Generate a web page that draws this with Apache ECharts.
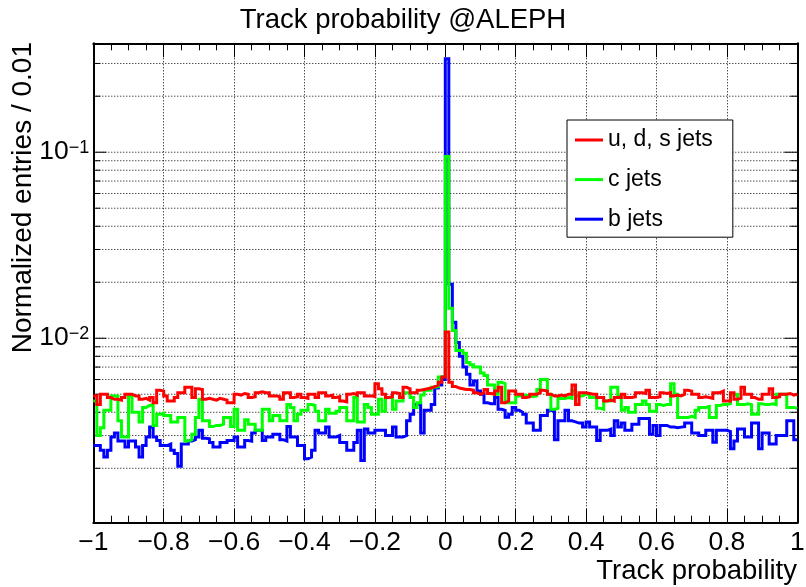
<!DOCTYPE html>
<html><head><meta charset="utf-8">
<script src="https://cdn.jsdelivr.net/npm/echarts@6/dist/echarts.min.js"></script>
<style>html,body{margin:0;padding:0;background:#fff}#c{width:806px;height:587px}</style>
</head><body><div id="c"></div>
<script>
// ---- binning / axis ranges ----
const X_MIN = -1, X_MAX = 1, BIN_W = 0.01;
const Y_MIN = 0.00102, Y_MAX = 0.385;
const X_TICK_STEP = 0.2;
const yGridValues = [0.002,0.003,0.004,0.005,0.006,0.007,0.008,0.009,
  0.01,0.02,0.03,0.04,0.05,0.06,0.07,0.08,0.09,0.1,0.2,0.3];

// ---- histogram contents (200 bins, -1..1) ----
const udsJets = [
0.0049,0.0044,0.005,0.005,0.0048,0.0047,0.0047,0.00465,0.0048,0.005,
0.005,0.0049,0.0049,0.0047,0.00475,0.00465,0.0048,0.0045,0.00525,0.0052,
0.0049,0.0046,0.0046,0.0048,0.0051,0.0051,0.00545,0.00545,0.0048,0.00535,
0.0053,0.0047,0.00475,0.0047,0.00465,0.00475,0.0047,0.00465,0.0045,0.0045,
0.005,0.00495,0.00505,0.005,0.0048,0.00485,0.0051,0.00515,0.0051,0.0051,
0.0049,0.0049,0.00485,0.0047,0.0051,0.0051,0.0048,0.00485,0.005,0.0048,
0.00475,0.005,0.005,0.0048,0.0051,0.0051,0.0049,0.00495,0.0048,0.00485,
0.0046,0.00455,0.005,0.00505,0.00495,0.0051,0.0051,0.0049,0.0049,0.00485,
0.0057,0.00535,0.005,0.0048,0.00485,0.0051,0.00505,0.0048,0.00545,0.00535,
0.0051,0.0051,0.00525,0.0053,0.00535,0.0054,0.0055,0.0056,0.0058,0.0062,
0.0108,0.0058,0.0055,0.0054,0.00535,0.0053,0.0053,0.00525,0.0051,0.005,
0.0051,0.0053,0.00505,0.005,0.0052,0.00545,0.0045,0.0046,0.0052,0.0052,
0.005,0.005,0.0048,0.00485,0.005,0.005,0.0051,0.00525,0.0052,0.005,
0.0049,0.0049,0.00495,0.0049,0.005,0.005,0.0056,0.0044,0.0051,0.0051,
0.00505,0.005,0.005,0.0048,0.0048,0.0046,0.00465,0.0046,0.0048,0.0048,
0.005,0.0048,0.0048,0.00485,0.0051,0.0051,0.00505,0.00525,0.0048,0.0048,
0.00485,0.0051,0.00505,0.0051,0.0049,0.00495,0.0049,0.005,0.00525,0.0052,
0.005,0.005,0.0048,0.00485,0.0048,0.00475,0.0051,0.0051,0.0052,0.0046,
0.0046,0.0051,0.0047,0.00475,0.00545,0.005,0.005,0.0048,0.0047,0.0047,
0.005,0.005,0.00535,0.0048,0.00485,0.005,0.005,0.00505,0.00495,0.005];

const cJets = [
0.0046,0.003,0.0033,0.0041,0.0041,0.0049,0.0049,0.0036,0.00295,0.00295,
0.0049,0.004,0.004,0.00355,0.00425,0.00435,0.0044,0.0034,0.0039,0.00395,
0.00385,0.00385,0.00355,0.00355,0.00375,0.00375,0.0028,0.00285,0.00305,0.00375,
0.0047,0.0036,0.0036,0.00335,0.0034,0.0034,0.00345,0.00375,0.00375,0.00335,
0.00415,0.0032,0.0032,0.00365,0.00345,0.00345,0.0032,0.0032,0.00415,0.00415,
0.0036,0.00385,0.00385,0.0036,0.0036,0.0044,0.00425,0.0036,0.0039,0.0041,
0.0041,0.0044,0.00435,0.00405,0.0036,0.0036,0.00415,0.00395,0.00395,0.00405,
0.00425,0.00425,0.0036,0.0036,0.0048,0.00355,0.00355,0.0044,0.00425,0.0039,
0.0039,0.0047,0.00405,0.0048,0.0048,0.00415,0.0046,0.0046,0.0051,0.0051,
0.0048,0.00425,0.0045,0.00495,0.00525,0.00525,0.00545,0.0055,0.0062,0.0063,
0.0948,0.0145,0.011,0.0086,0.0086,0.0083,0.0074,0.0072,0.007,0.007,
0.0065,0.0063,0.0056,0.0056,0.005,0.0058,0.0057,0.0045,0.0045,0.0045,
0.0049,0.0049,0.00495,0.0049,0.00485,0.0049,0.0053,0.006,0.006,0.005,
0.00415,0.0042,0.00475,0.00475,0.0048,0.00475,0.00525,0.0049,0.0049,0.005,
0.005,0.0048,0.0048,0.0042,0.00415,0.0046,0.0046,0.00545,0.00545,0.0049,
0.0041,0.00425,0.004,0.004,0.0044,0.0044,0.0046,0.0044,0.00405,0.00405,
0.0044,0.00435,0.0044,0.0044,0.0057,0.005,0.00375,0.00375,0.00375,0.0038,
0.00375,0.0041,0.00425,0.00425,0.0043,0.00375,0.00375,0.00435,0.0044,0.0044,
0.00445,0.005,0.005,0.0044,0.0044,0.00445,0.0044,0.0039,0.0039,0.00445,
0.0044,0.0044,0.00445,0.0044,0.005,0.005,0.005,0.00425,0.00425,0.0042];

const bJets = [
0.00265,0.00265,0.0025,0.0023,0.0025,0.00295,0.0031,0.0028,0.0028,0.0026,
0.0028,0.0028,0.0026,0.0023,0.00265,0.00295,0.00333,0.00295,0.00282,0.00265,
0.00265,0.0027,0.0025,0.0024,0.00205,0.0027,0.0027,0.0028,0.00285,0.00295,
0.0032,0.0029,0.00288,0.00275,0.0026,0.0026,0.00275,0.00275,0.00282,0.00282,
0.00295,0.0026,0.0026,0.00282,0.0028,0.0031,0.0032,0.0032,0.00282,0.00295,
0.00295,0.00305,0.00305,0.00285,0.0028,0.00335,0.00295,0.00295,0.00265,0.00265,
0.00225,0.0023,0.0025,0.0032,0.0031,0.0031,0.00333,0.00295,0.00295,0.003,
0.00275,0.00275,0.0025,0.0025,0.00275,0.0032,0.0022,0.00325,0.0031,0.0031,
0.0032,0.0032,0.0032,0.003,0.003,0.00333,0.00295,0.00295,0.003,0.0036,
0.0039,0.0044,0.0044,0.0031,0.0041,0.0041,0.0044,0.0054,0.0056,0.006,
0.318,0.0195,0.0122,0.0095,0.008,0.007,0.0064,0.0056,0.0059,0.0052,
0.005,0.0045,0.00445,0.00445,0.0048,0.00415,0.0041,0.00376,0.0039,0.00425,
0.0041,0.004,0.0039,0.0035,0.0035,0.0032,0.0032,0.00385,0.00385,0.0041,
0.00405,0.00285,0.0036,0.0036,0.0041,0.0036,0.00355,0.0035,0.0035,0.00333,
0.00355,0.00333,0.00333,0.00282,0.0032,0.0032,0.00325,0.003,0.0036,0.00333,
0.0035,0.0032,0.0032,0.00345,0.00345,0.0037,0.0037,0.0037,0.00305,0.0034,
0.003,0.0034,0.0034,0.00333,0.00333,0.0033,0.00333,0.00335,0.0035,0.0035,
0.0031,0.0031,0.003,0.003,0.0032,0.0032,0.00276,0.0032,0.0032,0.0032,
0.00315,0.00255,0.0028,0.00325,0.00325,0.00295,0.00295,0.0035,0.0035,0.00255,
0.0031,0.0031,0.0027,0.0027,0.003,0.003,0.003,0.0036,0.0036,0.00285];

const seriesNames = ['u, d, s jets', 'c jets', 'b jets'];
const seriesColors = ['#ff0000', '#00ff00', '#0000ff'];

// ---- helpers ----
const FONT = "'Liberation Sans', Arial, Helvetica, sans-serif";
function toSteps(vals) {
  const pts = vals.map((v, i) => [Math.round((X_MIN + i * BIN_W) * 1000) / 1000, v]);
  pts.push([X_MAX, vals[vals.length - 1]]);
  return pts;
}
function isPow10(v) { const l = Math.log10(v); return Math.abs(l - Math.round(l)) < 1e-6; }
function fmtX(v) { const r = Math.round(v * 10) / 10; return r < 0 ? '\u2212' + (-r) : String(r); }
function fmtY(v) {
  if (!isPow10(v)) return '';
  const r = Math.round(Math.log10(v));
  return '{b|10}{s|' + (r < 0 ? '\u2212' : '') + Math.abs(r) + '}';
}

const chart = echarts.init(document.getElementById('c'), null, {renderer: 'canvas'});

function histSeries(name, color, vals, z) {
  return {
    name, type: 'line', step: 'end', data: toSteps(vals),
    showSymbol: false, symbol: 'none', z, animation: false,
    color, itemStyle: {color},
    lineStyle: {color, width: 3, join: 'miter'},
    emphasis: {disabled: true}, silent: true
  };
}

const option = {
  animation: false,
  backgroundColor: '#fff',
  title: {
    text: 'Track probability @ALEPH', left: 'center', top: 5, padding: 0,
    textStyle: {fontFamily: FONT, fontSize: 27.5, fontWeight: 'normal', color: '#000', lineHeight: 30}
  },
  legend: {
    data: seriesNames, orient: 'vertical', left: 567, top: 120,
    padding: [8.5, 20, 6.5, 8], itemGap: 16.6, itemWidth: 28, itemHeight: 3, icon: 'rect',
    backgroundColor: '#fff', borderColor: '#000', borderWidth: 1, borderRadius: 0,
    textStyle: {fontFamily: FONT, fontSize: 23, color: '#000', lineHeight: 23},
    selectedMode: false
  },
  grid: {left: 93.3, right: 8.7, top: 43.3, bottom: 64.3, containLabel: false, outerBoundsMode: 'none'},
  xAxis: [{
    type: 'value', position: 'bottom', min: X_MIN, max: X_MAX, interval: X_TICK_STEP,
    axisLine: {show: true, onZero: false, lineStyle: {color: '#000', width: 2}},
    axisTick: {show: true, inside: true, length: 14, lineStyle: {color: '#000', width: 1}},
    minorTick: {show: true, splitNumber: 4, length: 7, lineStyle: {color: '#000', width: 1}},
    splitLine: {show: true, lineStyle: {color: '#000', width: 1, type: [1, 2]}},
    minorSplitLine: {show: false},
    axisLabel: {show: true, formatter: fmtX, margin: 6, fontFamily: FONT, fontSize: 26.5, color: '#000'}
  }, {
    type: 'value', position: 'top', min: X_MIN, max: X_MAX, interval: X_TICK_STEP,
    axisLine: {show: true, onZero: false, lineStyle: {color: '#000', width: 2}},
    axisTick: {show: true, inside: true, length: 14, lineStyle: {color: '#000', width: 1}},
    minorTick: {show: true, splitNumber: 4, length: 7, lineStyle: {color: '#000', width: 1}},
    splitLine: {show: false}, axisLabel: {show: false}
  }],
  yAxis: [{
    type: 'log', logBase: 10, position: 'left', min: Y_MIN, max: Y_MAX,
    axisLine: {show: true, onZero: false, lineStyle: {color: '#000', width: 2}},
    axisTick: {show: false}, splitLine: {show: false}, minorTick: {show: false},
    axisLabel: {
      show: true, formatter: fmtY, margin: 4, showMinLabel: true, showMaxLabel: true,
      rich: {
        b: {fontFamily: FONT, fontSize: 26.5, lineHeight: 26, color: '#000', padding: [6, 0, 0, 0], verticalAlign: 'bottom'},
        s: {fontFamily: FONT, fontSize: 18, lineHeight: 18, color: '#000', verticalAlign: 'top'}
      }
    }
  }, {
    type: 'log', logBase: 10, position: 'right', min: Y_MIN, max: Y_MAX,
    axisLine: {show: true, onZero: false, lineStyle: {color: '#000', width: 2}},
    axisTick: {show: false}, splitLine: {show: false}, axisLabel: {show: false}
  }],
  graphic: [{
    type: 'text', x: 797, y: 571, z: 10,
    style: {text: 'Track probability', font: '27.5px ' + FONT, fill: '#000',
      align: 'right', textAlign: 'right', verticalAlign: 'middle', textVerticalAlign: 'middle'}
  }, {
    type: 'text', x: 23, y: 42, rotation: Math.PI / 2, z: 10,
    style: {text: 'Normalized entries / 0.01', font: '28px ' + FONT, fill: '#000',
      align: 'right', textAlign: 'right', verticalAlign: 'middle', textVerticalAlign: 'middle'}
  }],
  series: [{
    name: 'ygrid', type: 'custom', z: 1, silent: true, animation: false,
    data: yGridValues.map(v => [X_MIN, v]),
    renderItem: function (params, api) {
      const v = api.value(1);
      const a = api.coord([X_MIN, v]), b = api.coord([X_MAX, v]);
      const L = isPow10(v) ? 13 : 7;
      return {type: 'group', children: [
        {type: 'line', shape: {x1: a[0], y1: a[1], x2: b[0], y2: b[1]},
          style: {stroke: '#000', lineWidth: 1, lineDash: [1, 2]}},
        {type: 'line', shape: {x1: a[0], y1: a[1], x2: a[0] + L, y2: a[1]},
          style: {stroke: '#000', lineWidth: 1}},
        {type: 'line', shape: {x1: b[0] - L, y1: b[1], x2: b[0], y2: b[1]},
          style: {stroke: '#000', lineWidth: 1}}
      ]};
    }
  },
    histSeries(seriesNames[2], seriesColors[2], bJets, 3),
    histSeries(seriesNames[1], seriesColors[1], cJets, 4),
    histSeries(seriesNames[0], seriesColors[0], udsJets, 5)
  ]
};
chart.setOption(option);
</script></body></html>
